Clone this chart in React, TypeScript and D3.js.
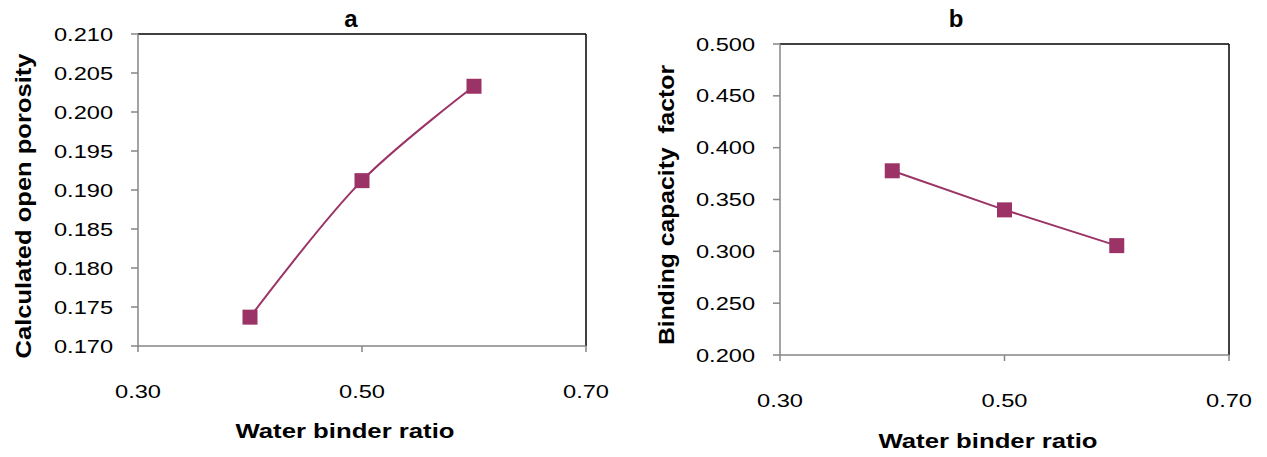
import React from "react";
import * as d3 from "d3";

const xTicks = [0.3, 0.5, 0.7];
const wbRatio = [0.4, 0.5, 0.6];
const porosity = [0.1737, 0.1912, 0.2033];
const porosityTicks = [0.17, 0.175, 0.18, 0.185, 0.19, 0.195, 0.2, 0.205, 0.21];
const binding = [0.3777, 0.34, 0.3055];
const bindingTicks = [0.2, 0.25, 0.3, 0.35, 0.4, 0.45, 0.5];

const COLOR = "#9B3366";
const AXIS = "#868686";
const FONT = "'Liberation Sans', Arial, sans-serif";

type PanelProps = {
  left: number; top: number; right: number; bottom: number;
  yTicks: number[]; yValues: number[]; title: string; titleX: number;
  yLabel: string; yLabelX: number; yLabelY: number; yLabelLen: number;
  xLabelX: number; xLabelY: number; tickLabelY: number; smooth: boolean;
};

function Panel(p: PanelProps) {
  const x = d3.scaleLinear().domain([0.3, 0.7]).range([p.left, p.right]);
  const y = d3.scaleLinear().domain([p.yTicks[0], p.yTicks[p.yTicks.length - 1]]).range([p.bottom, p.top]);
  const pts = wbRatio.map((v, i) => [x(v), y(p.yValues[i])] as [number, number]);
  const line = d3.line().curve(p.smooth ? d3.curveCatmullRom.alpha(0.5) : d3.curveLinear);
  const ms = 15;
  return (
    <g>
      <text x={p.titleX} y={27} textAnchor="middle" fontFamily={FONT} fontWeight="bold" fontSize={24}>{p.title}</text>
      <line x1={p.left} x2={p.right} y1={p.top} y2={p.top} stroke="#000" strokeWidth={1.5} />
      <line x1={p.right} x2={p.right} y1={p.top} y2={p.bottom} stroke="#000" strokeWidth={1.5} />
      <line x1={p.left} x2={p.left} y1={p.top} y2={p.bottom} stroke={AXIS} strokeWidth={1.5} />
      <line x1={p.left} x2={p.right} y1={p.bottom} y2={p.bottom} stroke={AXIS} strokeWidth={1.5} />
      {p.yTicks.map((t) => (
        <g key={t}>
          <line x1={p.left - 7} x2={p.left} y1={y(t)} y2={y(t)} stroke={AXIS} strokeWidth={1.5} />
          <text x={p.left - 25} y={y(t)} dy="0.35em" textAnchor="end" fontFamily={FONT} fontSize={19} textLength={59} lengthAdjust="spacingAndGlyphs">{t.toFixed(3)}</text>
        </g>
      ))}
      {xTicks.map((t) => (
        <g key={t}>
          <line x1={x(t)} x2={x(t)} y1={p.bottom} y2={p.bottom + 6} stroke={AXIS} strokeWidth={1.5} />
          <text x={x(t)} y={p.tickLabelY} dy="0.35em" textAnchor="middle" fontFamily={FONT} fontSize={19} textLength={46} lengthAdjust="spacingAndGlyphs">{t.toFixed(2)}</text>
        </g>
      ))}
      <path d={line(pts) || ""} fill="none" stroke={COLOR} strokeWidth={2} />
      {pts.map((pt, i) => (
        <rect key={i} x={pt[0] - ms / 2} y={pt[1] - ms / 2} width={ms} height={ms} fill={COLOR} />
      ))}
      <text x={p.xLabelX} y={p.xLabelY} dy="0.35em" textAnchor="middle" fontFamily={FONT} fontWeight="bold" fontSize={21} textLength={219} lengthAdjust="spacingAndGlyphs">Water binder ratio</text>
      <text transform={`translate(${p.yLabelX},${p.yLabelY}) rotate(-90)`} dy="0.35em" textAnchor="middle" fontFamily={FONT} fontWeight="bold" fontSize={22} textLength={p.yLabelLen} lengthAdjust="spacingAndGlyphs" style={{ whiteSpace: "pre" }}>{p.yLabel}</text>
    </g>
  );
}

export default function App() {
  return (
    <svg width={1267} height={457} style={{ position: "absolute", left: 0, top: 0, background: "#fff" }}>
      <rect width={1267} height={457} fill="#fff" />
      <Panel left={138} top={34} right={586} bottom={346} yTicks={porosityTicks} yValues={porosity}
        title="a" titleX={351} yLabel="Calculated open porosity" yLabelX={23} yLabelY={206} yLabelLen={305}
        xLabelX={345} xLabelY={431} tickLabelY={391} smooth={true} />
      <Panel left={780} top={44} right={1229} bottom={355} yTicks={bindingTicks} yValues={binding}
        title="b" titleX={956} yLabel="Binding capacity  factor" yLabelX={666} yLabelY={205} yLabelLen={280}
        xLabelX={988} xLabelY={441} tickLabelY={400} smooth={false} />
    </svg>
  );
}
